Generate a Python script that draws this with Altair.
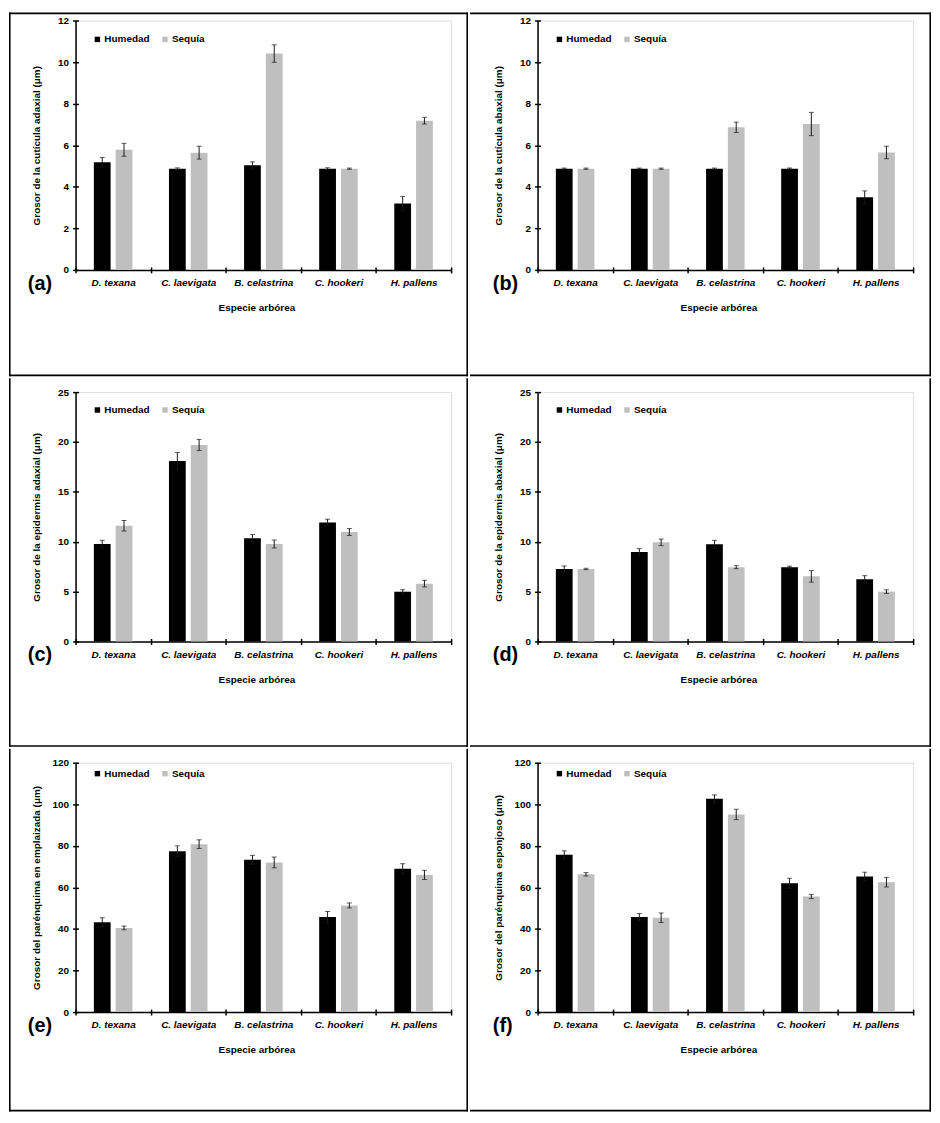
import altair as alt
import pandas as pd

species = ["D. texana", "C. laevigata", "B. celastrina", "C. hookeri", "H. pallens"]
conds = ["Humedad", "Sequía"]
colors = ["#000000", "#BFBFBF"]

# (a) cuticula adaxial
a_hum = [5.18, 4.87, 5.03, 4.87, 3.20]
a_hum_se = [0.23, 0.04, 0.17, 0.04, 0.33]
a_seq = [5.78, 5.64, 10.41, 4.87, 7.18]
a_seq_se = [0.31, 0.31, 0.42, 0.03, 0.16]
# (b) cuticula abaxial
b_hum = [4.87, 4.87, 4.87, 4.87, 3.49]
b_hum_se = [0.03, 0.03, 0.03, 0.03, 0.31]
b_seq = [4.87, 4.87, 6.86, 7.02, 5.65]
b_seq_se = [0.03, 0.03, 0.25, 0.56, 0.30]
# (c) epidermis adaxial
c_hum = [9.77, 18.09, 10.36, 11.93, 4.99]
c_hum_se = [0.37, 0.86, 0.36, 0.33, 0.20]
c_seq = [11.60, 19.70, 9.77, 10.98, 5.80]
c_seq_se = [0.53, 0.56, 0.40, 0.35, 0.33]
# (d) epidermis abaxial
d_hum = [7.27, 8.98, 9.74, 7.45, 6.24]
d_hum_se = [0.30, 0.33, 0.40, 0.10, 0.36]
d_seq = [7.27, 9.94, 7.45, 6.53, 5.00]
d_seq_se = [0.07, 0.33, 0.15, 0.58, 0.18]
# (e) parenquima en empalizada
e_hum = [43.2, 77.4, 73.3, 45.7, 69.0]
e_hum_se = [2.2, 2.6, 2.1, 2.7, 2.4]
e_seq = [40.5, 80.8, 72.0, 51.3, 66.0]
e_seq_se = [0.9, 2.1, 2.6, 1.2, 2.2]
# (f) parenquima esponjoso
f_hum = [75.7, 45.7, 102.6, 62.0, 65.2]
f_hum_se = [1.9, 1.7, 1.9, 2.4, 2.1]
f_seq = [66.3, 45.4, 95.1, 55.6, 62.5]
f_seq_se = [0.8, 2.3, 2.5, 1.0, 2.3]

panel_labels = ["(a)", "(b)", "(c)", "(d)", "(e)", "(f)"]
y_titles = [
    "Grosor de la cutícula adaxial (μm)",
    "Grosor de la cutícula abaxial (μm)",
    "Grosor de la epidermis adaxial (μm)",
    "Grosor de la epidermis abaxial (μm)",
    "Grosor del parénquima en emplaizada (μm)",
    "Grosor del parénquima esponjoso (μm)",
]
y_max = [12, 12, 25, 25, 120, 120]
y_step = [2, 2, 5, 5, 20, 20]
series = [
    (a_hum, a_hum_se, a_seq, a_seq_se),
    (b_hum, b_hum_se, b_seq, b_seq_se),
    (c_hum, c_hum_se, c_seq, c_seq_se),
    (d_hum, d_hum_se, d_seq, d_seq_se),
    (e_hum, e_hum_se, e_seq, e_seq_se),
    (f_hum, f_hum_se, f_seq, f_seq_se),
]

W, H = 378, 251
FONT = "Liberation Sans"
LINE = 1.6  # frame line thickness


def frame_rect(one, x0, x1, y0, y1, opacity=1.0):
    return alt.Chart(one).mark_rect(fill="black", fillOpacity=opacity).encode(
        x=alt.value(x0), x2=alt.value(x1), y=alt.value(y0), y2=alt.value(y1)
    )


def make_panel(i):
    col, row = i % 2, i // 2
    hum, hum_se, seq, seq_se = series[i]
    recs = []
    for s, h, hs, q, qs in zip(species, hum, hum_se, seq, seq_se):
        recs.append(dict(especie=s, cond=conds[0], val=h, lo=h - hs, hi=h + hs))
        recs.append(dict(especie=s, cond=conds[1], val=q, lo=q - qs, hi=q + qs))
    df = pd.DataFrame(recs)
    ticks = list(range(0, y_max[i] + 1, y_step[i]))

    xscale = alt.Scale(domain=species, paddingInner=0, paddingOuter=0)
    oscale = alt.Scale(domain=conds, paddingInner=0.23, paddingOuter=0.84)
    yscale = alt.Scale(domain=[0, y_max[i]], nice=False)

    x_axis = alt.Axis(
        title="Especie arbórea", tickBand="extent", tickSize=3, tickWidth=1.5,
        tickColor="black", domainColor="black", domainWidth=1.5, labelAngle=0,
        labelFont=FONT, labelFontStyle="italic", labelFontWeight="bold",
        labelFontSize=10, labelColor="black", labelPadding=5,
        titleFont=FONT, titleFontWeight="bold", titleFontSize=10,
        titleColor="black", titlePadding=15, titleX=182, grid=False,
    )
    y_axis = alt.Axis(
        title=y_titles[i], values=ticks, tickSize=3, tickWidth=1.5,
        tickColor="black", domainColor="black", domainWidth=1.5,
        labelFont=FONT, labelFontWeight="bold", labelFontSize=10,
        labelColor="black", labelPadding=4,
        titleFont=FONT, titleFontWeight="bold", titleFontSize=10,
        titleColor="black", titleX=-34, titleY=H / 2, grid=False,
    )
    x_inner = alt.Axis(
        orient="bottom", offset=-3, tickSize=3, tickWidth=1.5, tickColor="black",
        tickBand="extent", labels=False, domain=False, title=None, grid=False,
    )
    y_inner = alt.Axis(
        orient="left", offset=-3, values=ticks, tickSize=3, tickWidth=1.5,
        tickColor="black", labels=False, domain=False, title=None, grid=False,
    )

    legend_y = [14, 14, 13, 13, 6, 6][i]
    legend = alt.Legend(
        title=None, orient="none", legendX=17, legendY=legend_y,
        direction="horizontal", symbolType="square", symbolSize=30,
        symbolStrokeWidth=0, labelFont=FONT, labelFontSize=10,
        labelFontWeight="bold", labelColor="black", columnPadding=10,
        labelOffset=2, padding=0,
    )

    base = alt.Chart(df)
    bars = base.mark_bar().encode(
        x=alt.X("especie:N", scale=xscale, axis=x_axis),
        xOffset=alt.XOffset("cond:N", scale=oscale),
        y=alt.Y("val:Q", scale=yscale, axis=y_axis),
        color=alt.Color("cond:N", scale=alt.Scale(domain=conds, range=colors), legend=legend),
    )
    rule = base.mark_rule(color="#1a1a1a", strokeWidth=1).encode(
        x=alt.X("especie:N", scale=xscale, axis=None),
        xOffset=alt.XOffset("cond:N", scale=oscale),
        y=alt.Y("lo:Q", scale=yscale, axis=None),
        y2="hi:Q",
    )
    cap_hi = base.mark_tick(color="#1a1a1a", size=5, thickness=1, orient="horizontal").encode(
        x=alt.X("especie:N", scale=xscale, axis=None),
        xOffset=alt.XOffset("cond:N", scale=oscale),
        y=alt.Y("hi:Q", scale=yscale, axis=None),
    )
    cap_lo = base.mark_tick(color="#1a1a1a", size=5, thickness=1, orient="horizontal").encode(
        x=alt.X("especie:N", scale=xscale, axis=None),
        xOffset=alt.XOffset("cond:N", scale=oscale),
        y=alt.Y("lo:Q", scale=yscale, axis=None),
    )
    inner = base.mark_point(opacity=0).encode(
        x=alt.X("especie:N", scale=xscale, axis=x_inner),
        y=alt.Y("val:Q", scale=yscale, axis=y_inner),
    )

    one = pd.DataFrame({"lab": [panel_labels[i]]})
    lab_x = -48 if col == 0 else -45
    lab = alt.Chart(one).mark_text(
        align="left", baseline="middle", fontSize=20, fontWeight="bold", font=FONT, color="black"
    ).encode(x=alt.value(lab_x), y=alt.value(H + 14), text="lab:N")

    # panel frame: cell extents relative to the plot origin
    x0, x1 = (-67, 395) if col == 0 else (-68, 396)
    y0, y1 = [(-8, 358), (-14, 357), (-14, 351)][row]
    frames = [
        frame_rect(one, x0, x1, y0, y1, opacity=0),          # invisible, sets cell bounds
        frame_rect(one, x0, x1, y1 - LINE, y1),               # bottom edge
        frame_rect(one, x1 - LINE, x1, y0, y1),               # right edge
    ]
    if row == 0:
        frames.append(frame_rect(one, x0, x1, y0, y0 + LINE))  # top edge
    if col == 0:
        frames.append(frame_rect(one, x0, x0 + LINE, y0, y1))  # left edge

    return (
        alt.layer(bars, rule, cap_hi, cap_lo, inner, lab, *frames)
        .resolve_axis(x="independent", y="independent")
        .properties(width=W, height=H)
    )


panels = [make_panel(i) for i in range(6)]
chart = (
    alt.concat(*panels, columns=2, spacing=0, align="each", padding=0)
    .resolve_scale(color="independent")
    .configure_view(strokeOpacity=0)
    .configure(font=FONT)
)

chart.save("out.html", embed_options={"renderer": "svg", "actions": False})
